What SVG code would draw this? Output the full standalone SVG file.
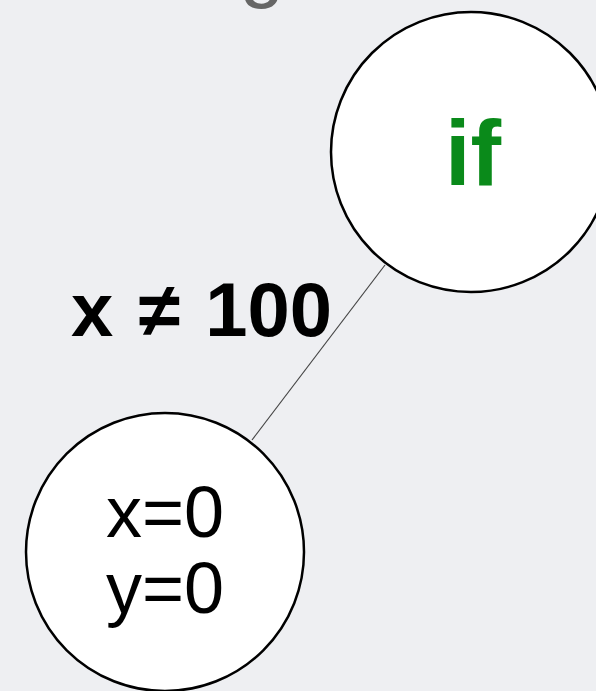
<svg xmlns="http://www.w3.org/2000/svg" width="596" height="691" viewBox="0 0 596 691">
<style>
.node{fill:#ffffff;stroke:#000000;stroke-width:2.5}
.edge{stroke:#444444;stroke-width:1.2;fill:none}
.lbl{font-family:"Liberation Sans",Arial,sans-serif}
</style>
<rect width="596" height="691" fill="#eeeff2"/>
<text class="lbl" x="262" y="-8" font-size="80" fill="#666666" text-anchor="middle" font-weight="300">g</text>
<g id="connectors">
<line class="edge" x1="385" y1="265" x2="252" y2="440"/>
</g>
<g id="node-if">
<circle class="node" cx="471" cy="152" r="140"/>
<text class="lbl" x="473" y="185" font-size="92" font-weight="bold" fill="#0a8a1a" text-anchor="middle">if</text>
</g>
<text id="edge-label" class="lbl" x="71" y="336" font-size="76" font-weight="bold" fill="#000000" word-spacing="4">x ≠ 100</text>
<g id="node-assign">
<circle class="node" cx="165" cy="552" r="139"/>
<text class="lbl" x="165" y="537" font-size="72" fill="#000000" text-anchor="middle">x=0</text>
<text class="lbl" x="165" y="613" font-size="72" fill="#000000" text-anchor="middle">y=0</text>
</g>
</svg>
